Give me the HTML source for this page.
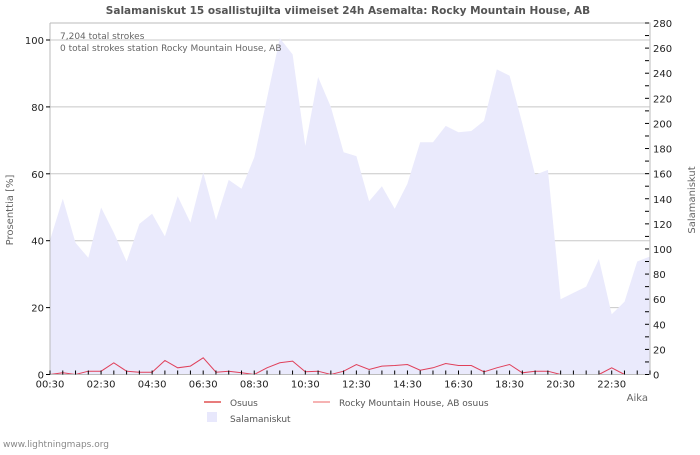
<!DOCTYPE html>
<html><head><meta charset="utf-8"><style>
body{margin:0;background:#fff;}
svg text{font-family:"DejaVu Sans","Liberation Sans",sans-serif;}
</style></head><body>
<svg width="700" height="450" xmlns="http://www.w3.org/2000/svg">
<rect width="700" height="450" fill="#fff"/>
<text x="348" y="14" text-anchor="middle" font-size="10.5" font-weight="bold" fill="#555">Salamaniskut 15 osallistujilta viimeiset 24h Asemalta: Rocky Mountain House, AB</text>
<g id="grid"></g>
<g id="area"></g>
<g id="line"></g>
<g id="axes"></g>
<text x="60" y="39" font-size="9" fill="#666">7,204 total strokes</text>
<text x="60" y="51" font-size="9" fill="#666">0 total strokes station Rocky Mountain House, AB</text>
<text transform="translate(13,210) rotate(-90)" text-anchor="middle" font-size="10" fill="#666">Prosenttia  [%]</text>
<text transform="translate(695,200) rotate(-90)" text-anchor="middle" font-size="10" fill="#666">Salamaniskut</text>
<text x="648" y="401" text-anchor="end" font-size="10" fill="#666">Aika</text>
<g>
<line x1="204" y1="402" x2="221" y2="402" stroke="#e05050" stroke-width="1.5"/>
<text x="230" y="406" font-size="9" fill="#555">Osuus</text>
<line x1="313" y1="402" x2="330" y2="402" stroke="#f49a9a" stroke-width="1.5"/>
<text x="339" y="406" font-size="9" fill="#555">Rocky Mountain House, AB osuus</text>
<rect x="207" y="412" width="10" height="10" fill="#e8e8fc"/>
<text x="230" y="422" font-size="9" fill="#555">Salamaniskut</text>
</g>
<text x="3" y="447" font-size="9" fill="#888">www.lightningmaps.org</text>
</svg>
<script>
const strikes=[107,140,105,93,133,113,90,120,128,110,142,121,161,123,155,148,173,220,268,255,182,237,213,177,174,138,150,132,152,185,185,198,193,194,202,243,238,200,159,163,60,65,70,92,48,58,90,94];
const osuus=[0,0.5,0,1,1,3.5,1,0.7,0.7,4.2,2,2.5,5,0.7,1,0.5,0,2,3.5,4,0.8,1,0,1,3,1.5,2.5,2.7,3,1.3,2,3.3,2.7,2.7,0.8,2,3,0.5,1,1,0,null,null,0,2,0,null,null];
const xLabels=["00:30","02:30","04:30","06:30","08:30","10:30","12:30","14:30","16:30","18:30","20:30","22:30"];
const leftTicks=[0,20,40,60,80,100];
const rightTicks=[0,20,40,60,80,100,120,140,160,180,200,220,240,260,280];
const NS="http://www.w3.org/2000/svg";
const X0=50,X1=650,Y0=374.5,YT=23;
const step=(X1-X0)/47;
const xs=i=>X0+i*step;
const yL=v=>Y0-v*(Y0-40)/100;
const yR=v=>Y0-v*(Y0-YT)/280;
function mk(tag,attrs,parent){const e=document.createElementNS(NS,tag);for(const k in attrs)e.setAttribute(k,attrs[k]);document.getElementById(parent).appendChild(e);return e;}
leftTicks.forEach(v=>{if(v>0){const g=mk('line',{x1:X0,x2:X1,y1:yL(v),y2:yL(v),stroke:'#c8c8c8','stroke-width':1},'grid');

}});
let d='M'+xs(0)+','+Y0;
strikes.forEach((v,i)=>{d+=' L'+xs(i).toFixed(1)+','+yR(v).toFixed(1);});
d+=' L'+xs(strikes.length-1)+','+Y0+' Z';
const a=mk('path',{d:d,fill:'#eaeafc'},'area');


let ld='',pen=false;
osuus.forEach((v,i)=>{if(v===null){pen=false;return;}ld+=(pen?' L':' M')+xs(i).toFixed(1)+','+yL(v).toFixed(1);pen=true;});
const l=mk('path',{d:ld,fill:'none',stroke:'#e0405a','stroke-width':1},'line');


const ax=mk('path',{d:`M${X0},${YT} V${Y0} H${X1} V${YT} H${X0}`,fill:'none',stroke:'#bbb','stroke-width':1},'axes');


for(let i=0;i<48;i++){const t=mk('line',{x1:xs(i),x2:xs(i),y1:Y0,y2:Y0-4,stroke:'#000','stroke-width':1},'axes');

}
xLabels.forEach((s,k)=>{const t=mk('text',{x:xs(k*4),y:Y0+13,'text-anchor':'middle','font-size':10,fill:'#222'},'axes');t.textContent=s;

});
leftTicks.forEach(v=>{const t=mk('text',{x:X0-6,y:yL(v)+4,'text-anchor':'end','font-size':10,fill:'#222'},'axes');t.textContent=v;


const tk=mk('line',{x1:X0-4,x2:X0,y1:yL(v),y2:yL(v),stroke:'#000'},'axes');

});
for(let v=0;v<=280;v+=10){const tk=mk('line',{x1:X1-5,x2:X1-1,y1:yR(v),y2:yR(v),stroke:'#000'},'axes');

}
rightTicks.forEach(v=>{const t=mk('text',{x:X1+3,y:yR(v)+4,'font-size':10,fill:'#222'},'axes');t.textContent=v;

});
</script>
</body></html>
